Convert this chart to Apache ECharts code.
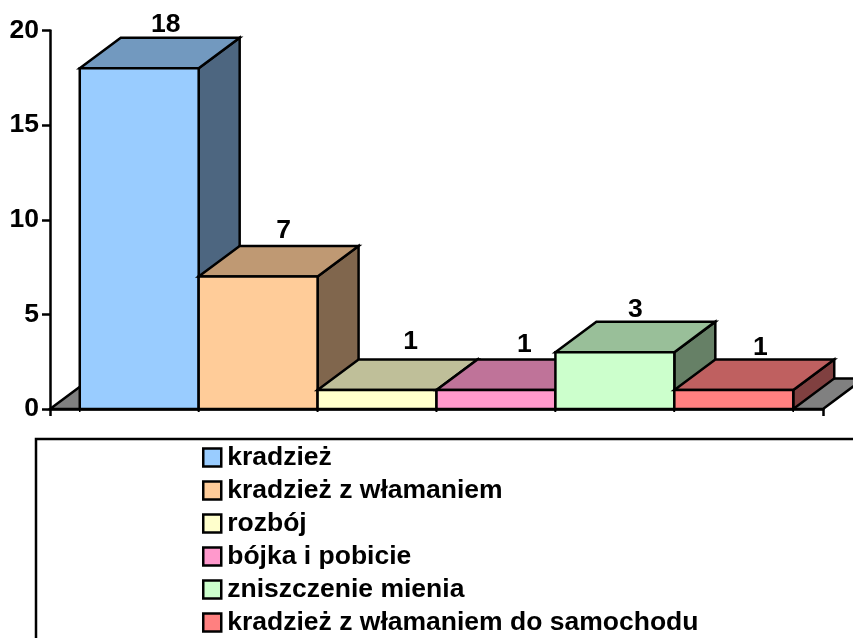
<!DOCTYPE html>
<html>
<head>
<meta charset="utf-8">
<style>html,body{margin:0;padding:0;background:#fff;overflow:hidden}#c{width:853px;height:638px}</style>
<script src="https://cdn.jsdelivr.net/npm/echarts@6/dist/echarts.min.js"></script>
</head>
<body>
<div id="c"></div>
<script>
const categories = ['kradzież','kradzież z włamaniem','rozbój','bójka i pobicie','zniszczenie mienia','kradzież z włamaniem do samochodu'];
const values = [18,7,1,1,3,1];
const frontColors = ['#99CCFF','#FFCC99','#FFFFCC','#FF99CC','#CCFFCC','#FF8080'];
const topColors = ['#7299BF','#BF9973','#BFBF99','#BF7399','#99BF99','#BF6060'];
const sideColors = ['#4D6680','#80664D','#808066','#804D66','#668066','#804040'];
const yTicks = {min:0,max:20,interval:5};
const FONT = '"Liberation Sans", Arial, sans-serif';
const FS = 26.5, LW = 2.5;
const DX = 41, DY = -30.6, GAP = 0.077;
const labelNudge = [[6,-13],[5,-15],[13,-18],[8,-15],[0,-12],[6,-12]];

function poly(points, fill){
  return {type:'polygon',shape:{points},style:{fill,stroke:'#000',lineWidth:LW,lineJoin:'miter'}};
}
function barRender(i){
  return function(params, api){
    const band = api.size([1,0])[0];
    const base = api.coord([0,0]);
    const top = api.coord([0,api.value(1)]);
    const w = band*(1-GAP)/categories.length;
    const l = base[0]-band/2+band*GAP/2+i*w, r = l+w, y0 = base[1], y1 = top[1];
    return {type:'group',children:[
      poly([[r,y0],[r+DX,y0+DY],[r+DX,y1+DY],[r,y1]],sideColors[i]),
      poly([[l,y1],[l+DX,y1+DY],[r+DX,y1+DY],[r,y1]],topColors[i]),
      poly([[l,y0],[r,y0],[r,y1],[l,y1]],frontColors[i]),
      {type:'line',shape:{x1:l,y1:y0,x2:l,y2:y0+3},style:{stroke:'#000',lineWidth:1.5}},
      {type:'line',shape:{x1:r,y1:y0,x2:r,y2:y0+3},style:{stroke:'#000',lineWidth:1.5}},
      {type:'text',style:{text:String(api.value(1)),x:(l+r)/2+DX/2+labelNudge[i][0],y:y1+DY+labelNudge[i][1],
        align:'center',verticalAlign:'middle',fill:'#000',fontFamily:FONT,fontWeight:'bold',fontSize:FS}}
    ]};
  };
}
function floorRender(params, api){
  const band = api.size([1,0])[0];
  const b = api.coord([0,0]);
  const l = b[0]-band/2, r = b[0]+band/2, y = b[1];
  return poly([[l,y],[l+DX,y+DY],[r+DX,y+DY],[r,y]],'#808080');
}
const series = [{type:'custom',name:'floor',renderItem:floorRender,data:[[0,0]],z:1,silent:true}];
categories.forEach((name,i)=>{
  series.push({type:'custom',name,renderItem:barRender(i),data:[[0,values[i]]],z:2+i,
    itemStyle:{color:frontColors[i],borderColor:'#000',borderWidth:LW}});
});
const chart = echarts.init(document.getElementById('c'),null,{width:853,height:638});
chart.setOption({
  animation:false,
  backgroundColor:'#fff',
  textStyle:{fontFamily:FONT},
  grid:{left:50,right:30,top:30.5,bottom:229,containLabel:false},
  xAxis:{type:'category',data:[''],z:20,
    axisLine:{lineStyle:{color:'#000',width:LW}},
    axisTick:{show:true,length:7,lineStyle:{color:'#000',width:LW}},
    axisLabel:{show:false},splitLine:{show:false}},
  yAxis:{type:'value',min:yTicks.min,max:yTicks.max,interval:yTicks.interval,z:20,
    axisLine:{show:true,lineStyle:{color:'#000',width:LW}},
    axisTick:{show:true,length:8,lineStyle:{color:'#000',width:LW}},
    axisLabel:{color:'#000',fontFamily:FONT,fontWeight:'bold',fontSize:FS,margin:11},
    splitLine:{show:false}},
  legend:{data:categories,orient:'vertical',left:202,top:444,height:400,itemWidth:18,itemHeight:18,itemGap:6,padding:0,
    selectedMode:false,icon:'rect',
    itemStyle:{borderColor:'#000',borderWidth:LW},
    textStyle:{color:'#000',fontFamily:FONT,fontWeight:'bold',fontSize:FS,lineHeight:24,padding:[0,0,0,1]}},
  graphic:[{type:'rect',shape:{x:36,y:439,width:900,height:300},style:{fill:'none',stroke:'#000',lineWidth:LW},silent:true,z:0}],
  series
});
</script>
</body>
</html>
